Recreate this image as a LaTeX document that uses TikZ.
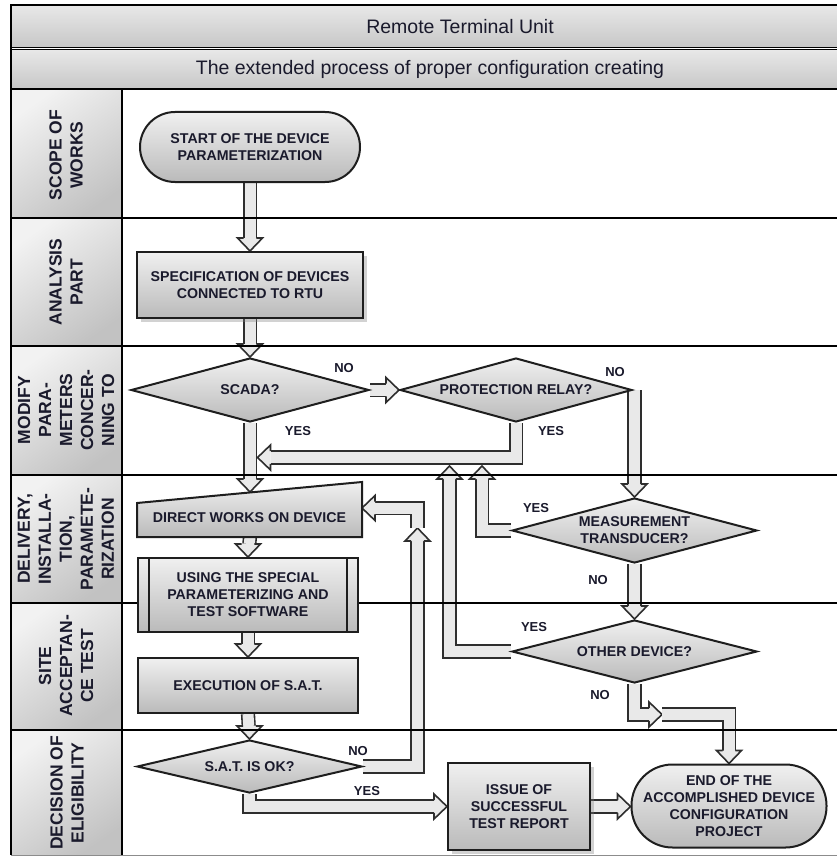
\documentclass[tikz,border=0pt]{standalone}
\usepackage{fontspec}
\setmainfont{Liberation Sans}
\usetikzlibrary{shapes.geometric,shadows,calc}
\definecolor{txt}{HTML}{1A1A2C}
\definecolor{edge}{HTML}{1E1E1E}
\definecolor{arrowfill}{HTML}{E9E9E9}
\definecolor{arrowline}{HTML}{2E2E2E}
\pgfdeclarelayer{bg}
\pgfdeclarelayer{arrowlayer}
\pgfdeclarelayer{lanelayer}
\pgfsetlayers{bg,arrowlayer,lanelayer,main}

\tikzset{
  shapefill/.style={draw=edge, line width=2pt, top color=black!6, bottom color=black!27},
  boxtext/.style={font=\fontsize{14.2}{17}\selectfont\bfseries, text=txt, align=center, inner sep=0pt},
  lanetext/.style={font=\fontsize{17.5}{21}\selectfont\bfseries, text=txt, align=center, rotate=90, inner sep=0pt},
  headtext/.style={font=\fontsize{19.5}{23}\selectfont, text=txt, inner sep=0pt},
  ynlabel/.style={font=\fontsize{13}{15}\selectfont\bfseries, text=txt, inner sep=0pt},
  cellfill/.style={top color=black!5, bottom color=black!24, shading angle=35},
  headfill/.style={draw=black, line width=1.8pt, top color=black!9, bottom color=black!22},
  laneline/.style={draw=black, line width=2pt},
  shaft/.style={draw=arrowline, line width=1.6pt, double=arrowfill, double distance=11pt, shorten >=13pt},
  headst/.style={fill=arrowfill, draw=arrowline, line width=1.6pt, line join=miter},
  boxshadow/.style={drop shadow={shadow xshift=4pt, shadow yshift=-4pt, opacity=0.35}},
  hd/.pic={\filldraw[headst] (-6.3,-13) -- (-12.5,-13) -- (0,0) -- (12.5,-13) -- (6.3,-13);},
  hu/.pic={\filldraw[headst] (-6.3,13) -- (-12.5,13) -- (0,0) -- (12.5,13) -- (6.3,13);},
  hr/.pic={\filldraw[headst] (-13,-6.3) -- (-13,-12.5) -- (0,0) -- (-13,12.5) -- (-13,6.3);},
  hl/.pic={\filldraw[headst] (13,-6.3) -- (13,-12.5) -- (0,0) -- (13,12.5) -- (13,6.3);}
}

\begin{document}
\begin{tikzpicture}[x=1pt,y=-1pt]
\useasboundingbox (0,0) rectangle (836,856);

% ---------- frame, headers and lane column ----------
\begin{pgfonlayer}{bg}
  \fill[white] (0,0) rectangle (836,856);
  \path[headfill] (11,5) rectangle (900,47.5);
  \path[headfill] (11,49.5) rectangle (900,89);
  \foreach \ya/\yb in {89/218,218/346,346/475,475/603,603/730,730/855}
    \path[cellfill] (11,\ya) rectangle (122,\yb);
\end{pgfonlayer}

\node[headtext] (rtu) at (460,27) {Remote Terminal Unit};
\node[headtext] (proc) at (430,69) {The extended process of proper configuration creating};

\begin{pgfonlayer}{lanelayer}
  \foreach \y in {89,218,346,475,603,730}
    \draw[laneline] (11,\y) -- (900,\y);
  \draw[black!45, line width=1pt] (11,855) -- (900,855);
  \draw[laneline] (11,5) -- (11,855);
  \draw[laneline] (122,89) -- (122,855);
\end{pgfonlayer}

\node[lanetext] (l1) at (66,155) {SCOPE OF\\WORKS};
\node[lanetext] (l2) at (66,282) {ANALYSIS\\PART};
\node[lanetext] (l3) at (66,410) {MODIFY\\PARA-\\METERS\\CONCER-\\NING TO};
\node[lanetext] (l4) at (66,539) {DELIVERY,\\INSTALLA-\\TION,\\PARAMETE-\\RIZATION};
\node[lanetext] (l5) at (66,666) {SITE\\ACCEPTAN-\\CE TEST};
\node[lanetext] (l6) at (67,793) {DECISION OF\\ELIGIBILITY};

% ---------- process shapes ----------
\node[shapefill, boxtext, rectangle, rounded corners=35pt, minimum width=220pt, minimum height=70pt]
  (start) at (250,147) {START OF THE DEVICE\\PARAMETERIZATION};
\node[shapefill, boxtext, boxshadow, rectangle, minimum width=226pt, minimum height=66pt]
  (spec) at (250,285) {SPECIFICATION OF DEVICES\\CONNECTED TO RTU};
\node[shapefill, boxtext, diamond, aspect=3.7, minimum width=238pt, minimum height=64pt]
  (scada) at (250,390) {SCADA?};
\node[shapefill, boxtext, diamond, aspect=3.6, minimum width=232pt, minimum height=64pt]
  (pr) at (516,390) {PROTECTION RELAY?};
\node[shapefill, boxtext, diamond, aspect=3.7, minimum width=245pt, minimum height=65pt]
  (mt) at (634.5,530.5) {MEASUREMENT\\TRANSDUCER?};
\node[shapefill, boxtext, diamond, aspect=3.8, minimum width=245pt, minimum height=63pt]
  (od) at (634.5,651.5) {OTHER DEVICE?};

% manual-input shape with slanted top
\path[shapefill] (137,503) -- (362,482) -- (362,537) -- (137,537) -- cycle;
\node[boxtext] (dw) at (249.5,518) {DIRECT WORKS ON DEVICE};

% predefined-process box
\node[shapefill, boxtext, rectangle, minimum width=220pt, minimum height=74pt]
  (using) at (248,595) {USING THE SPECIAL\\PARAMETERIZING AND\\TEST SOFTWARE};
\draw[edge, line width=1.8pt] ([xshift=12pt]using.north west) -- ([xshift=12pt]using.south west);
\draw[edge, line width=1.8pt] ([xshift=-12pt]using.north east) -- ([xshift=-12pt]using.south east);

\node[shapefill, boxtext, rectangle, minimum width=220pt, minimum height=55pt]
  (exec) at (248,685.5) {EXECUTION OF S.A.T.};
\node[shapefill, boxtext, diamond, aspect=4.2, minimum width=225pt, minimum height=53pt]
  (sat) at (249.5,766.5) {S.A.T. IS OK?};
\node[shapefill, boxtext, boxshadow, rectangle, minimum width=142pt, minimum height=87pt]
  (issue) at (519,806.5) {ISSUE OF\\SUCCESSFUL\\TEST REPORT};
\node[shapefill, boxtext, rectangle, rounded corners=41pt, minimum width=195pt, minimum height=83pt]
  (end) at (729,806) {END OF THE\\ACCOMPLISHED DEVICE\\CONFIGURATION\\PROJECT};

% ---------- connector end points ----------
\coordinate (dwtop) at (250,492);
\coordinate (dwbot) at (250,537);
\coordinate (dwin) at (362,508);
\coordinate (yesin) at (257.5,457.5);
\coordinate (mtup) at (482,466);
\coordinate (odup) at (449.5,466);
\coordinate (odno) at (662,714.5);
\coordinate (satup) at (417.5,528);

% ---------- hollow connectors ----------
\begin{pgfonlayer}{arrowlayer}
  \draw[shaft] (start.south) -- (spec.north);  \pic at (spec.north) {hd};
  \draw[shaft] (spec.south) -- (scada.north);  \pic at (scada.north) {hd};
  \draw[shaft] (scada.east) -- (pr.west);      \pic at (pr.west) {hr};
  \draw[shaft] (scada.south) -- (dwtop);       \pic at (dwtop) {hd};
  \draw[shaft] (pr.south) |- (yesin);          \pic at (yesin) {hl};
  \draw[shaft] (pr.east -| mt.north) -- (mt.north); \pic at (mt.north) {hd};
  \draw[shaft] (mt.west) -| (mtup);            \pic at (mtup) {hu};
  \draw[shaft] (mt.south) -- (od.north);       \pic at (od.north) {hd};
  \draw[shaft] (od.west) -| (odup);            \pic at (odup) {hu};
  \draw[shaft] (od.south) |- (odno);           \pic at (odno) {hr};
  \draw[shaft] (odno) -| (end.north);          \pic at (end.north) {hd};
  \draw[shaft] (dwbot) -- (using.north);       \pic at (using.north) {hd};
  \draw[shaft] (using.south) -- (exec.north);  \pic at (exec.north) {hd};
  \draw[shaft] (exec.south) -- (sat.north);    \pic at (sat.north) {hd};
  \draw[shaft] (sat.south) |- (issue.west);    \pic at (issue.west) {hr};
  \draw[shaft] (issue.east) -- (issue.east -| end.west); \pic at (issue.east -| end.west) {hr};
  \draw[shaft] (sat.east) -| (satup);          \pic at (satup) {hu};
  \draw[shaft] (satup) |- (dwin);              \pic at (dwin) {hl};
\end{pgfonlayer}

% ---------- branch labels ----------
\node[ynlabel] (n1) at (344,368) {NO};
\node[ynlabel] (y1) at (298,431) {YES};
\node[ynlabel] (n2) at (615,372) {NO};
\node[ynlabel] (y2) at (551,431) {YES};
\node[ynlabel] (y3) at (536,508) {YES};
\node[ynlabel] (n3) at (598,580) {NO};
\node[ynlabel] (y4) at (534,627) {YES};
\node[ynlabel] (n4) at (600,695) {NO};
\node[ynlabel] (n5) at (358,751) {NO};
\node[ynlabel] (y5) at (367,791) {YES};
\end{tikzpicture}
\end{document}
